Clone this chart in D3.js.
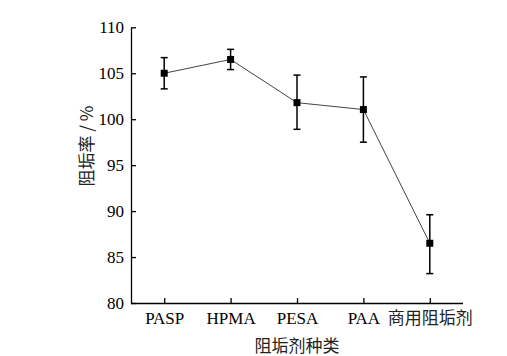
<!DOCTYPE html>
<html><head><meta charset="utf-8">
<script src="https://cdn.jsdelivr.net/npm/d3@7"></script>
<style>body{margin:0;background:#fff}svg{display:block}
.serif text{font-family:"Liberation Serif","Times New Roman",serif !important;}
.serif text.cjk{font-family:"Noto Sans CJK SC",sans-serif !important;}
</style>
</head><body>
<svg id="c" width="507" height="356"></svg>
<script>
const categories = ["PASP","HPMA","PESA","PAA","商用阻垢剂"];
const values = [105.0, 106.5, 101.8, 101.05, 86.5];
const errUpper = [106.7, 107.6, 104.8, 104.6, 89.6];
const errLower = [103.3, 105.4, 98.9, 97.5, 83.2];
const yTicks = [80, 85, 90, 95, 100, 105, 110];

const svg = d3.select("#c");
const L = 131, R = 463, T = 27.3, B = 303;
const x = d3.scalePoint().domain(categories).range([L, R]).padding(0.5);
const y = d3.scaleLinear().domain([80, 110]).range([B, T]);

const ya = svg.append("g").attr("class", "serif").attr("transform", `translate(${L},0)`)
  .call(d3.axisLeft(y).tickValues(yTicks).tickSizeInner(-5).tickSizeOuter(0).tickPadding(7));
const xa = svg.append("g").attr("class", "serif").attr("transform", `translate(0,${B})`)
  .call(d3.axisBottom(x).tickSizeInner(-5).tickSizeOuter(0).tickPadding(9));
xa.select(".domain").attr("d", `M${L},0.5H${R}`);
[ya, xa].forEach(a => {
  a.selectAll("path,line").attr("stroke", "#000").attr("stroke-width", 1.3);
  a.selectAll("text").attr("font-size", 17).attr("fill", "#000");
});
xa.selectAll("text").filter(d => /[^\x00-\x7f]/.test(d)).attr("class", "cjk").attr("fill", "#222");

const data = categories.map((c, i) => ({c, v: values[i], hi: errUpper[i], lo: errLower[i]}));

svg.append("path").datum(data)
  .attr("d", d3.line().x(d => x(d.c)).y(d => y(d.v)))
  .attr("fill", "none").attr("stroke", "#444").attr("stroke-width", 1);

const eb = svg.append("g").attr("stroke", "#000").attr("stroke-width", 1.5);
data.forEach(d => {
  const cx = x(d.c);
  eb.append("line").attr("x1", cx).attr("x2", cx).attr("y1", y(d.hi)).attr("y2", y(d.lo));
  eb.append("line").attr("x1", cx - 3.5).attr("x2", cx + 3.5).attr("y1", y(d.hi)).attr("y2", y(d.hi));
  eb.append("line").attr("x1", cx - 3.5).attr("x2", cx + 3.5).attr("y1", y(d.lo)).attr("y2", y(d.lo));
});

svg.append("g").selectAll("rect").data(data).join("rect")
  .attr("x", d => x(d.c) - 3.5).attr("y", d => y(d.v) - 3.5)
  .attr("width", 7).attr("height", 7).attr("fill", "#000");

svg.append("text").attr("transform", "translate(93,146) rotate(-90)")
  .attr("text-anchor", "middle").style("font-family", "'Noto Sans CJK SC',sans-serif")
  .attr("font-size", 17).attr("fill", "#222").text("阻垢率 / %");
svg.append("text").attr("x", 297).attr("y", 352)
  .attr("text-anchor", "middle").style("font-family", "'Noto Sans CJK SC',sans-serif")
  .attr("font-size", 17).attr("fill", "#222").text("阻垢剂种类");
</script>
</body></html>
